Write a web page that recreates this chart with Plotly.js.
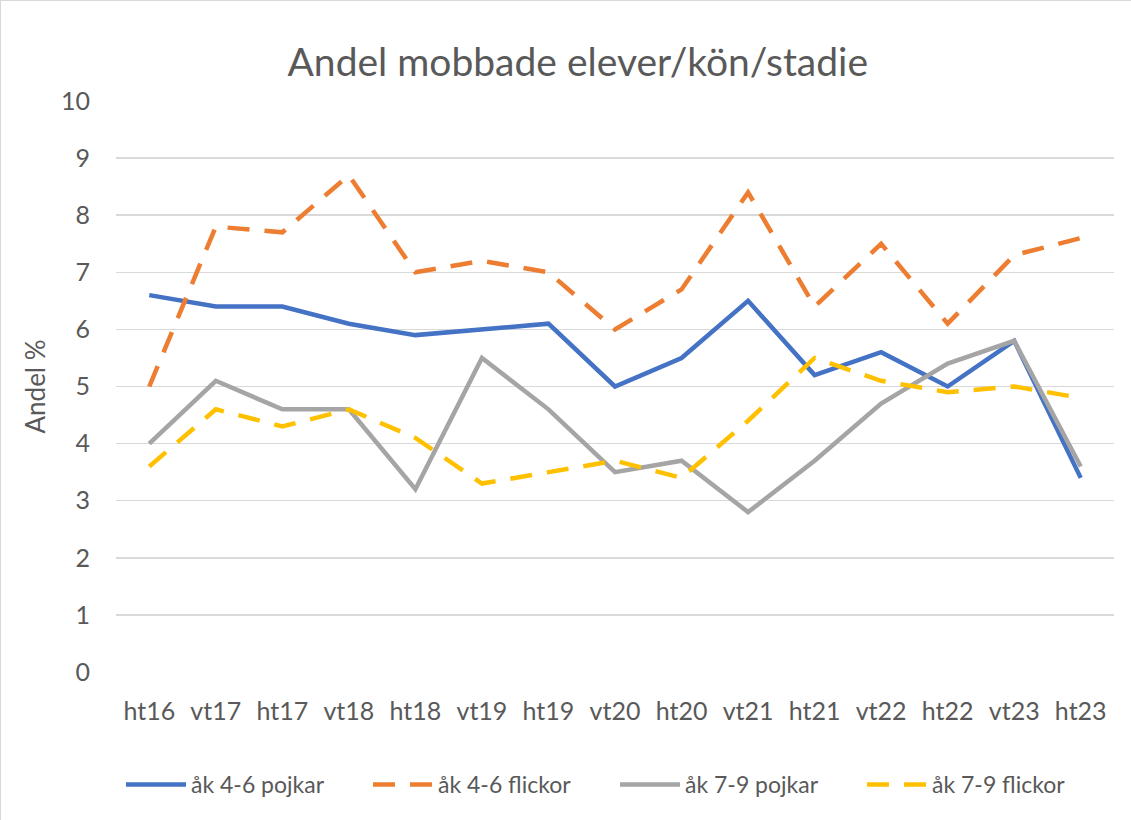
<!DOCTYPE html>
<html>
<head>
<meta charset="utf-8">
<script src="https://cdn.plot.ly/plotly-3.0.1.min.js"></script>
<style>
html,body{margin:0;padding:0;background:#fff;}
#chart{width:1131px;height:820px;box-sizing:border-box;border-left:1px solid #d9d9d9;border-top:1px solid #d9d9d9;}
</style>
</head>
<body>
<div id="chart"></div>
<script>
const categories = ["ht16","vt17","ht17","vt18","ht18","vt19","ht19","vt20","ht20","vt21","ht21","vt22","ht22","vt23","ht23"];
const ak46Pojkar  = [6.6, 6.4, 6.4, 6.1, 5.9, 6.0, 6.1, 5.0, 5.5, 6.5, 5.2, 5.6, 5.0, 5.8, 3.4];
const ak46Flickor = [5.0, 7.8, 7.7, 8.7, 7.0, 7.2, 7.0, 6.0, 6.7, 8.4, 6.4, 7.5, 6.1, 7.3, 7.6];
const ak79Pojkar  = [4.0, 5.1, 4.6, 4.6, 3.2, 5.5, 4.6, 3.5, 3.7, 2.8, 3.7, 4.7, 5.4, 5.8, 3.6];
const ak79Flickor = [3.6, 4.6, 4.3, 4.6, 4.1, 3.3, 3.5, 3.7, 3.4, 4.4, 5.5, 5.1, 4.9, 5.0, 4.8];
const seriesNames = ["åk 4-6 pojkar","åk 4-6 flickor","åk 7-9 pojkar","åk 7-9 flickor"];
const yTicks = [0,1,2,3,4,5,6,7,8,9,10];

const FONT = "Lato, 'Open Sans', sans-serif";
const dashPat = "22px,15px";
function tr(y, name, color, dash){
  return {x: categories, y: y, name: name, type: "scatter", mode: "lines",
          line: {color: color, width: 4.5, dash: dash}};
}
const data = [
  tr(ak46Pojkar, seriesNames[0], "#4472C4", "solid"),
  tr(ak46Flickor, seriesNames[1], "#ED7D31", dashPat),
  tr(ak79Pojkar, seriesNames[2], "#A5A5A5", "solid"),
  tr(ak79Flickor, seriesNames[3], "#FFC000", dashPat)
];
const layout = {
  width: 1131, height: 820,
  paper_bgcolor: "#fff", plot_bgcolor: "#fff",
  margin: {l: 115, r: 18, t: 100, b: 149, autoexpand: false},
  font: {family: FONT, color: "#595959", size: 22},
  title: {text: "Andel mobbade elever/kön/stadie", font: {family: FONT, size: 39, color: "#595959"},
          x: 0.51, xanchor: "center", y: 0.925, yanchor: "middle"},
  xaxis: {type: "category", range: [-0.5, 14.5], showgrid: false, zeroline: false, automargin: false,
          showline: false, ticks: "", tickfont: {size: 25, color: "#595959"}, ticklabelstandoff: 22, fixedrange: true},
  yaxis: {range: [0, 10], tickvals: yTicks, ticktext: yTicks.map(String), showgrid: true, automargin: false,
          gridcolor: "#d9d9d9", gridwidth: 1.5, zeroline: false, showline: false, ticks: "",
          tickfont: {size: 25, color: "#595959"}, ticklabelstandoff: 25,
          title: {text: "Andel %", font: {size: 26, color: "#595959"}, standoff: 7}, fixedrange: true},
  showlegend: true,
  legend: {orientation: "h", x: 0.5, xanchor: "center", y: -0.197, yanchor: "middle",
           font: {size: 23, color: "#595959"}, itemwidth: 60, entrywidth: 172, tracegroupgap: 0, traceorder: "normal"}
};
Plotly.newPlot("chart", data, layout, {displayModeBar: false, staticPlot: true});
</script>
</body>
</html>
